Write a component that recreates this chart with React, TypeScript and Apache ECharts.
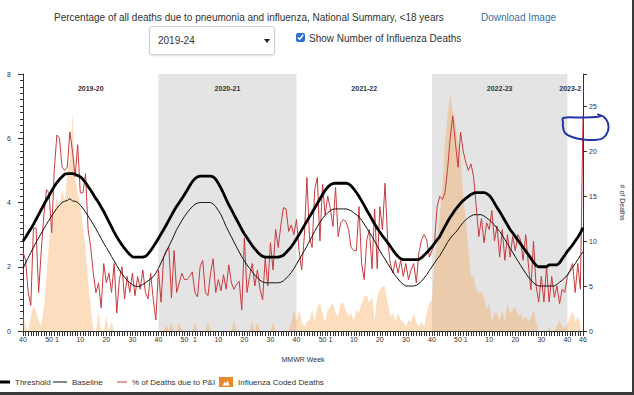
import React, { useEffect, useRef } from 'react';
import * as echarts from 'echarts';

// ---------- categories (MMWR weeks, 2019 wk40 .. 2023 wk46) ----------
const yearSpans: [number, number, number][] = [
  [2019, 40, 52],
  [2020, 1, 53],
  [2021, 1, 52],
  [2022, 1, 52],
  [2023, 1, 46],
];
const weekKeys: string[] = [];
for (const [yr, a, b] of yearSpans) for (let w = a; w <= b; w++) weekKeys.push(`${yr}-${w}`);

const shownWeekLabels = [1, 10, 20, 30, 40, 50];

// seasons (start week key, end week key, label, shaded)
const seasonNames = ['2019-20', '2020-21', '2021-22', '2022-23', '2023-2'];
const seasonStarts = ['2019-40', '2020-40', '2021-40', '2022-40', '2023-40'];
const seasonEnds = ['2020-40', '2021-40', '2022-40', '2023-40', '2023-46'];
const seasonShaded = [false, true, false, true, false];

// ---------- series values ----------
const threshold = [
  // 2019 wk40-52
  2.80, 2.92, 3.05, 3.18, 3.32, 3.47, 3.62, 3.78, 3.93, 4.08, 4.22, 4.36, 4.50,
  // 2020 wk1-53
  4.62, 4.72, 4.80, 4.88, 4.90, 4.90, 4.90, 4.88, 4.84, 4.80, 4.72, 4.62, 4.50, 4.38, 4.25, 4.12, 4.00, 3.86,
  3.72, 3.56, 3.40, 3.24, 3.08, 2.93, 2.80, 2.68, 2.57, 2.47, 2.38, 2.31, 2.30, 2.30, 2.30, 2.30, 2.32, 2.40,
  2.50, 2.62, 2.75, 2.88, 3.02, 3.16, 3.30, 3.45, 3.60, 3.75, 3.88, 4.00, 4.12, 4.25, 4.38, 4.52, 4.65,
  // 2021 wk1-52
  4.74, 4.80, 4.82, 4.82, 4.82, 4.82, 4.82, 4.80, 4.72, 4.60, 4.45, 4.28, 4.10, 3.93, 3.78, 3.62, 3.47, 3.32,
  3.16, 3.02, 2.90, 2.78, 2.66, 2.56, 2.46, 2.38, 2.32, 2.30, 2.30, 2.30, 2.30, 2.30, 2.30, 2.32, 2.36, 2.44,
  2.53, 2.62, 2.74, 2.87, 3.00, 3.14, 3.28, 3.42, 3.56, 3.69, 3.83, 3.97, 4.11, 4.25, 4.38, 4.48,
  // 2022 wk1-52
  4.55, 4.59, 4.60, 4.60, 4.60, 4.60, 4.60, 4.58, 4.52, 4.42, 4.31, 4.19, 4.05, 3.91, 3.76, 3.62, 3.47, 3.33,
  3.20, 3.08, 2.96, 2.86, 2.75, 2.64, 2.52, 2.41, 2.32, 2.25, 2.22, 2.22, 2.22, 2.22, 2.22, 2.22, 2.23, 2.28,
  2.36, 2.44, 2.53, 2.62, 2.73, 2.84, 2.94, 3.10, 3.25, 3.40, 3.54, 3.66, 3.78, 3.88, 3.98, 4.06,
  // 2023 wk1-46
  4.13, 4.19, 4.25, 4.29, 4.31, 4.31, 4.31, 4.31, 4.28, 4.22, 4.12, 3.98, 3.84, 3.72, 3.58, 3.44, 3.30, 3.16,
  3.05, 2.94, 2.83, 2.72, 2.60, 2.49, 2.38, 2.26, 2.14, 2.04, 2.00, 2.00, 2.00, 2.00, 2.06, 2.06, 2.06, 2.06,
  2.12, 2.24, 2.36, 2.48, 2.58, 2.68, 2.80, 2.92, 3.05, 3.22,
];

const baseline = [
  // 2019 wk40-52
  1.95, 2.12, 2.28, 2.44, 2.60, 2.76, 2.90, 3.04, 3.18, 3.32, 3.45, 3.58, 3.70,
  // 2020 wk1-53
  3.82, 3.92, 4.00, 4.04, 4.06, 4.12, 4.05, 4.04, 4.00, 3.92, 3.82, 3.70, 3.58, 3.45, 3.32, 3.18, 3.03, 2.88,
  2.73, 2.60, 2.46, 2.32, 2.18, 2.04, 1.90, 1.78, 1.67, 1.58, 1.50, 1.44, 1.40, 1.38, 1.40, 1.45, 1.50, 1.56,
  1.62, 1.69, 1.80, 1.95, 2.12, 2.30, 2.47, 2.64, 2.80, 2.98, 3.16, 3.30, 3.44, 3.57, 3.68, 3.78, 3.87,
  // 2021 wk1-52
  3.94, 3.98, 4.00, 4.00, 4.00, 4.00, 4.00, 3.96, 3.87, 3.75, 3.62, 3.44, 3.25, 3.09, 2.93, 2.77, 2.61, 2.46,
  2.31, 2.18, 2.06, 1.95, 1.85, 1.74, 1.65, 1.58, 1.53, 1.50, 1.50, 1.50, 1.50, 1.50, 1.50, 1.52, 1.56, 1.64,
  1.72, 1.82, 1.94, 2.08, 2.22, 2.36, 2.50, 2.64, 2.80, 2.95, 3.10, 3.25, 3.38, 3.50, 3.60, 3.68,
  // 2022 wk1-52
  3.75, 3.79, 3.80, 3.80, 3.80, 3.80, 3.80, 3.78, 3.74, 3.68, 3.62, 3.55, 3.45, 3.33, 3.20, 3.07, 2.94, 2.80,
  2.65, 2.50, 2.36, 2.24, 2.10, 1.97, 1.84, 1.72, 1.62, 1.52, 1.45, 1.40, 1.40, 1.40, 1.40, 1.42, 1.48, 1.55,
  1.65, 1.75, 1.88, 2.00, 2.12, 2.24, 2.34, 2.48, 2.62, 2.76, 2.88, 2.98, 3.06, 3.16, 3.28, 3.38,
  // 2023 wk1-46
  3.46, 3.53, 3.58, 3.62, 3.62, 3.62, 3.62, 3.58, 3.52, 3.46, 3.38, 3.30, 3.20, 3.10, 2.98, 2.85, 2.72, 2.58,
  2.45, 2.31, 2.18, 2.05, 1.92, 1.80, 1.68, 1.59, 1.50, 1.44, 1.40, 1.40, 1.40, 1.40, 1.40, 1.40, 1.40, 1.45,
  1.52, 1.58, 1.65, 1.75, 1.86, 1.98, 2.10, 2.22, 2.35, 2.47,
];

const pctPI = [
  // 2019 wk40-52
  2.47, 2.2, 1.2, 0.8, 3.2, 3.2, 1.2, 2.5, 3.6, 4.4, 4.3, 3.06, 5.0,
  // 2020 wk1-53
  6.1, 6.0, 5.1, 5.0, 5.1, 6.2, 5.6, 4.8, 5.8, 4.3, 4.3, 4.9, 3.16, 2.6, 1.8, 1.19, 1.5, 0.72, 2.1, 1.5, 1.8,
  1.2, 2.1, 0.56, 1.6, 2.0, 1.0, 1.7, 1.2, 1.8, 1.1, 1.7, 1.3, 1.9, 1.2, 1.0, 1.8, 1.0, 0.34, 1.9, 0.9, 2.3,
  2.5, 2.6, 1.03, 2.5, 1.2, 1.5, 1.8, 1.6, 1.6, 1.7, 1.84,
  // 2021 wk1-52
  1.2, 1.06, 2.0, 2.2, 1.2, 1.1, 1.8, 2.25, 1.2, 1.6, 1.25, 1.75, 1.3, 2.06, 1.5, 1.3, 1.45, 1.55, 0.66, 2.9,
  1.2, 1.7, 2.1, 1.4, 1.9, 1.3, 0.97, 2.28, 1.4, 2.75, 1.9, 3.16, 2.6, 3.3, 3.84, 3.8, 3.1, 3.3, 3.0, 3.47,
  2.5, 1.9, 2.94, 4.78, 2.9, 2.6, 4.4, 4.78, 2.8, 4.56, 3.6, 4.2,
  // 2022 wk1-52
  3.8, 3.25, 4.47, 2.94, 3.37, 3.47, 3.4, 3.16, 2.6, 2.5, 2.5, 3.87, 2.1, 1.6, 2.84, 3.16, 1.94, 3.8, 1.94,
  3.87, 3.16, 4.6, 2.84, 2.1, 1.8, 2.2, 1.8, 2.2, 1.7, 2.1, 1.6, 1.9, 2.1, 1.5, 2.44, 2.84, 3.0, 2.84, 2.3,
  2.5, 2.75, 3.87, 4.19, 4.1, 4.3, 5.03, 6.0, 6.7, 5.87, 5.1, 6.19, 5.6,
  // 2023 wk1-46
  5.25, 5.0, 5.2, 4.8, 3.87, 2.94, 3.5, 2.75, 3.37, 3.16, 3.75, 2.8, 3.27, 2.3, 3.16, 2.2, 3.0, 2.3, 2.94,
  2.5, 3.0, 2.84, 2.2, 3.0, 2.1, 1.28, 2.8, 1.4, 0.9, 1.7, 0.9, 2.0, 0.9, 1.7, 1.05, 1.4, 0.85, 1.3, 1.2,
  1.7, 1.9, 2.1, 1.2, 2.1, 1.3, 6.7,
];

const fluDeaths = [
  // 2019 wk40-52
  2.0, 0.5, 0, 1.5, 2.8, 2.2, 1.2, 0.5, 2.5, 6.0, 10.0, 12.0, 13.5,
  // 2020 wk1-53
  15.0, 13.5, 15.8, 14.5, 17.5, 19.0, 24.3, 17.0, 15.5, 14.0, 11.5, 9.0, 5.5, 2.7, 0, 0, 2.0, 0, 0, 1.6, 0,
  1.0, 0, 0, 0, 0, 0, 0, 0, 0, 0, 0, 0, 0, 0, 0, 0, 0, 0, 0, 0, 0, 0.8, 0, 1.0, 0, 0, 1.0, 0, 0, 0, 0,
  // 2021 wk1-52
  0, 1.0, 0, 0, 0, 0, 1.0, 0, 0, 0, 0, 0, 0, 0, 0, 0, 1.2, 0, 0, 0, 0, 0, 0, 1.2, 0, 1.0, 0, 0, 0, 0, 0,
  1.0, 0, 0, 0, 0, 0, 0, 1.0, 2.4, 1.2, 2.4, 1.0, 0.5, 1.0, 1.2, 2.4, 1.0, 2.7, 3.1, 2.0, 1.0,
  // 2022 wk1-52
  2.4, 2.7, 3.1, 2.0, 1.6, 3.1, 3.1, 2.2, 1.6, 2.0, 1.2, 2.4, 2.0, 3.1, 3.8, 4.0, 3.1, 3.8, 1.2, 3.8, 4.6,
  5.0, 4.9, 3.1, 1.6, 2.0, 1.0, 2.0, 1.2, 1.0, 0.5, 1.2, 1.0, 2.0, 1.0, 0.5, 1.0, 0.5, 2.0, 3.1, 3.5, 7.4,
  10.0, 12.8, 16.0, 21.0, 24.0, 26.3, 24.5, 23.0, 21.0, 19.7,
  // 2023 wk1-46
  15.0, 12.5, 9.0, 6.1, 6.1, 4.6, 4.3, 4.3, 3.8, 2.4, 3.1, 1.0, 2.0, 2.0, 1.2, 2.4, 1.0, 3.1, 2.0, 2.4, 2.7,
  1.6, 2.0, 1.2, 1.6, 1.0, 1.5, 2.3, 1.0, 0, 0, 0, 0, 0.5, 0, 0, 0.5, 1.2, 0.5, 0.3, 0.8, 1.5, 2.3, 1.0,
  1.6, 0.8,
];

const leftTicks = { min: 0, max: 8, interval: 2 };
const rightTicks = { min: 0, max: 28.6, interval: 5 };

const FONT = '"Liberation Sans", Arial, sans-serif';
const AXIS_COLOR = '#333';
const COLOR_THRESHOLD = '#000';
const COLOR_BASELINE = '#111';
const COLOR_PI = '#c93a40';
const COLOR_FLU = '#e8892b';

export default function App() {
  const ref = useRef<HTMLDivElement>(null);

  useEffect(() => {
    if (!ref.current) return;
    const chart = echarts.init(ref.current, undefined, { renderer: 'svg' });
    const lastIdx = weekKeys.length - 1;

    const seasonAreas = seasonNames.map((name, k) => [
      {
        name,
        xAxis: seasonStarts[k],
        itemStyle: { color: seasonShaded[k] ? '#e4e4e4' : 'rgba(255,255,255,0)' },
        label: k === seasonNames.length - 1 ? { offset: [-5, 0] } : undefined,
      },
      { xAxis: seasonEnds[k] },
    ]);

    const legendText = { fontSize: 8, color: '#333', fontFamily: FONT };
    const legendBase = { top: 377, padding: 0, itemHeight: 10, selectedMode: false, textStyle: legendText };

    chart.setOption({
      animation: false,
      textStyle: { fontFamily: FONT },
      grid: { left: 23, right: 50, top: 74, bottom: 64, containLabel: false },
      legend: [
        {
          ...legendBase, left: -4, itemWidth: 14,
          data: [{
            name: 'Threshold',
            icon: 'path://M0,0H14V0.01H0Z M0,3.4H14V6.6H0Z M0,9.99H14V10H0Z',
            itemStyle: { color: COLOR_THRESHOLD, borderWidth: 0 },
          }],
        },
        {
          ...legendBase, left: 53, itemWidth: 14,
          data: [{
            name: 'Baseline',
            icon: 'path://M0,0H14V0.01H0Z M0,4.5H14V5.5H0Z M0,9.99H14V10H0Z',
            itemStyle: { color: COLOR_BASELINE, borderWidth: 0 },
          }],
        },
        {
          ...legendBase, left: 117, itemWidth: 10,
          data: [{
            name: '% of Deaths due to P&I',
            icon: 'path://M0,0H10V0.01H0Z M0,4.4H10V5.6H0Z M0,9.99H10V10H0Z',
            itemStyle: { color: COLOR_PI, borderWidth: 0 },
          }],
        },
        {
          ...legendBase, left: 219, itemWidth: 14,
          data: [{
            name: 'Influenza Coded Deaths',
            icon: 'path://M0,0H14V10H0Z M3.5,8.6L10.5,8.6L8.6,3.6L7.1,6.4L5.6,4.8Z',
            itemStyle: { color: COLOR_FLU, borderWidth: 0 },
          }],
        },
      ],
      xAxis: {
        type: 'category',
        data: weekKeys,
        boundaryGap: false,
        name: 'MMWR Week',
        nameLocation: 'middle',
        nameGap: 25,
        nameTextStyle: { fontSize: 7, color: '#333', fontFamily: FONT },
        axisLine: { show: true, lineStyle: { color: AXIS_COLOR, width: 1 } },
        axisTick: { show: true, interval: 0, length: 5, lineStyle: { color: AXIS_COLOR, width: 1 } },
        axisLabel: {
          interval: (idx: number, val: string) =>
            idx === lastIdx || shownWeekLabels.includes(Number(val.split('-')[1])),
          formatter: (val: string) => val.split('-')[1],
          fontSize: 7,
          color: '#333',
          margin: 5,
          fontFamily: FONT,
        },
        splitLine: { show: false },
      },
      yAxis: [
        {
          type: 'value',
          position: 'left',
          ...leftTicks,
          axisLine: { show: true, lineStyle: { color: AXIS_COLOR, width: 1 } },
          axisTick: { show: true, length: 5, lineStyle: { color: AXIS_COLOR } },
          minorTick: { show: true, splitNumber: 10, length: 3, lineStyle: { color: AXIS_COLOR } },
          axisLabel: { fontSize: 7, color: '#333', margin: 12, fontFamily: FONT },
          splitLine: { show: false },
          minorSplitLine: { show: false },
        },
        {
          type: 'value',
          position: 'right',
          ...rightTicks,
          name: '# of Deaths',
          nameLocation: 'middle',
          nameGap: 36,
          nameRotate: -90,
          nameTextStyle: { fontSize: 7, color: '#333', fontFamily: FONT },
          axisLine: { show: true, lineStyle: { color: AXIS_COLOR, width: 1 } },
          axisTick: { show: true, length: 4, lineStyle: { color: AXIS_COLOR } },
          axisLabel: {
            fontSize: 7,
            color: '#333',
            margin: 6,
            fontFamily: FONT,
            formatter: (v: number) => (v % 5 === 0 ? String(v) : ''),
          },
          splitLine: { show: false },
        },
      ],
      series: [
        {
          name: 'Influenza Coded Deaths',
          type: 'line',
          yAxisIndex: 1,
          data: fluDeaths,
          symbol: 'none',
          showSymbol: false,
          lineStyle: { width: 0, color: COLOR_FLU },
          itemStyle: { color: COLOR_FLU },
          areaStyle: { color: 'rgba(245,160,70,0.5)' },
          z: 2,
          markArea: {
            silent: true,
            z: 1,
            label: {
              show: true,
              position: 'insideTop',
              distance: 11,
              fontSize: 7,
              fontWeight: 'bold',
              color: '#333',
              fontFamily: FONT,
            },
            data: seasonAreas,
          },
        },
        {
          name: '% of Deaths due to P&I',
          type: 'line',
          data: pctPI,
          symbol: 'none',
          showSymbol: false,
          lineStyle: { width: 1, color: COLOR_PI },
          itemStyle: { color: COLOR_PI },
          z: 3,
        },
        {
          name: 'Baseline',
          type: 'line',
          data: baseline,
          symbol: 'none',
          showSymbol: false,
          lineStyle: { width: 1, color: COLOR_BASELINE },
          itemStyle: { color: COLOR_BASELINE },
          z: 4,
        },
        {
          name: 'Threshold',
          type: 'line',
          data: threshold,
          symbol: 'none',
          showSymbol: false,
          lineStyle: { width: 2.8, color: COLOR_THRESHOLD },
          itemStyle: { color: COLOR_THRESHOLD },
          z: 5,
        },
      ],
      graphic: [
        {
          type: 'polyline',
          silent: true,
          z: 100,
          shape: {
            points: [
              [563, 122], [563, 118], [580, 117.5], [596, 117], [601, 116], [598, 114.5],
              [604, 117], [608, 123], [608, 131], [603, 138], [595, 140], [583, 139.5],
              [572, 137], [565, 133], [563, 127], [563, 122],
            ],
            smooth: 0.35,
          },
          style: { stroke: '#2233aa', lineWidth: 2, fill: null },
        },
        { type: 'rect', silent: true, shape: { x: 632, y: 0, width: 2, height: 395 }, style: { fill: '#3a3a3a' } },
        { type: 'rect', silent: true, shape: { x: 0, y: 392, width: 634, height: 3 }, style: { fill: '#3a3a3a' } },
      ],
    });

    return () => chart.dispose();
  }, []);

  const text10: React.CSSProperties = {
    position: 'absolute',
    fontSize: 10,
    lineHeight: '12px',
    fontFamily: FONT,
    color: '#333',
    whiteSpace: 'nowrap',
  };

  return (
    <div style={{ position: 'fixed', left: 0, top: 0, width: 634, height: 395, background: '#fff', overflow: 'hidden' }}>
      <div ref={ref} style={{ position: 'absolute', left: 0, top: 0, width: 634, height: 395 }} />
      <div style={{ ...text10, left: 54, top: 12 }}>
        Percentage of all deaths due to pneumonia and influenza, National Summary, &lt;18 years
      </div>
      <div style={{ ...text10, left: 481, top: 12, color: '#3a6ea5' }}>Download Image</div>
      <div
        style={{
          position: 'absolute',
          left: 149,
          top: 26,
          width: 124,
          height: 27,
          border: '1px solid #cfcfcf',
          borderRadius: 3,
          boxShadow: '0 1px 2px rgba(0,0,0,0.12)',
          background: '#fff',
        }}
      >
        <div style={{ ...text10, left: 8, top: 8 }}>2019-24</div>
        <div
          style={{
            position: 'absolute',
            left: 114,
            top: 12,
            width: 0,
            height: 0,
            borderLeft: '3px solid transparent',
            borderRight: '3px solid transparent',
            borderTop: '4px solid #222',
          }}
        />
      </div>
      <input
        type="checkbox"
        checked
        readOnly
        style={{ position: 'absolute', left: 296, top: 33, width: 9, height: 9, margin: 0, accentColor: '#2c6fd1' }}
      />
      <div style={{ ...text10, left: 309, top: 33 }}>Show Number of Influenza Deaths</div>
    </div>
  );
}
